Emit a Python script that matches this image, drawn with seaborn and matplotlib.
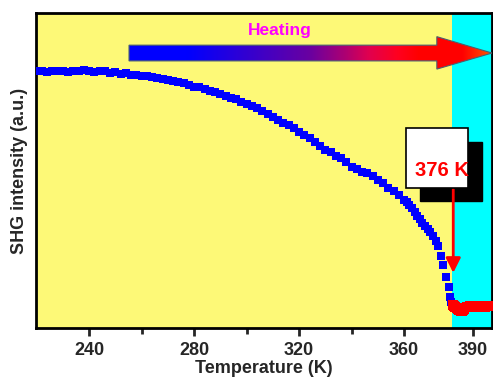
import numpy as np
import pandas as pd
import matplotlib
matplotlib.use('Agg')
import matplotlib.pyplot as plt
import seaborn as sns
from matplotlib.colors import LinearSegmentedColormap
from matplotlib.patches import Polygon, Rectangle, FancyArrowPatch

# ── Data ──────────────────────────────────────────────────────
temp_ferro = [220, 222, 224, 226, 228, 230, 232, 234, 236, 238, 240, 242, 244,
              246, 248, 250, 252, 254, 256, 258, 260, 262, 264, 266, 268, 270,
              272, 274, 276, 278, 280, 282, 284, 286, 288, 290, 292, 294, 296,
              298, 300, 302, 304, 306, 308, 310, 312, 314, 316, 318, 320, 322,
              324, 326, 328, 330, 332, 334, 336, 338, 340, 342, 344, 346, 348,
              350, 352, 354, 356, 358, 360, 361, 362, 363, 364, 365, 366, 367,
              368, 369, 370, 371, 372, 373, 374, 375, 376, 377, 377.5, 378]
shg_ferro = [1.000, 1.000, 0.996, 1.000, 1.002, 1.000, 0.998, 1.002, 1.000,
             1.004, 1.002, 0.998, 1.002, 1.000, 0.994, 0.996, 0.990, 0.992,
             0.986, 0.984, 0.980, 0.982, 0.976, 0.974, 0.968, 0.966, 0.962,
             0.958, 0.952, 0.946, 0.940, 0.938, 0.930, 0.924, 0.918, 0.910,
             0.904, 0.896, 0.890, 0.880, 0.872, 0.866, 0.858, 0.846, 0.834,
             0.820, 0.810, 0.798, 0.790, 0.778, 0.764, 0.752, 0.740, 0.724,
             0.710, 0.694, 0.684, 0.670, 0.660, 0.646, 0.628, 0.620, 0.606,
             0.602, 0.590, 0.576, 0.564, 0.546, 0.532, 0.516, 0.498, 0.490,
             0.478, 0.466, 0.452, 0.436, 0.424, 0.410, 0.398, 0.384, 0.372,
             0.358, 0.340, 0.320, 0.280, 0.244, 0.200, 0.158, 0.122, 0.102]

temp_para = [378.5, 379, 379.5, 380, 380.5, 381, 381.5, 382, 382.5, 383, 384,
             385, 386, 387, 388, 389, 390, 391, 392, 393, 394]
shg_para = [0.090, 0.086, 0.082, 0.078, 0.074, 0.070, 0.066, 0.066, 0.070,
            0.074, 0.080, 0.084, 0.086, 0.082, 0.085, 0.084, 0.086, 0.083,
            0.084, 0.086, 0.085]

x_ticks = [240, 280, 320, 360, 386.2]
x_labels = ['240', '280', '320', '360', '390']
x_minor = [260, 300, 340]
t_c = 378.3
t_c_label = '376 K'

ferro = pd.DataFrame({'T': temp_ferro, 'I': shg_ferro})
para = pd.DataFrame({'T': temp_para, 'I': shg_para})

# ── Figure ────────────────────────────────────────────────────
sns.set_style('ticks')
plt.rcParams['font.family'] = ['Liberation Sans', 'DejaVu Sans']

fig = plt.figure(figsize=(4.93, 3.79), dpi=100)
ax = fig.add_axes([0.073, 0.1346, 0.925, 0.831])
ax.set_xlim(219.8, 393.5)
ax.set_ylim(0, 1.226)

# background regions
ax.axvspan(219.8, t_c, color='#FDF977', zorder=0, lw=0)
ax.axvspan(t_c, 393.5, color='#00FFFF', zorder=0, lw=0)

sns.scatterplot(data=ferro, x='T', y='I', color='#0000FF', marker='s', s=30,
                linewidth=0, legend=False, ax=ax, zorder=3)
sns.scatterplot(data=para, x='T', y='I', color='#FF0000', marker='s', s=48,
                linewidth=0, legend=False, ax=ax, zorder=3)

# ── Heating gradient arrow (axes fraction) ────────────────────
cmap = LinearSegmentedColormap.from_list('heat', [
    (0.00, '#0000FF'), (0.16, '#0000FF'), (0.50, '#6A00A0'),
    (0.60, '#B00070'), (0.66, '#E00050'), (0.74, '#FF0020'),
    (0.80, '#FF0000'), (0.92, '#FF0000'), (1.00, '#FF5500')])
x0, xb, xt = 0.204, 0.879, 1.0
yb0, yb1, yh0, yh1 = 0.848, 0.898, 0.822, 0.925
ym = (yb0 + yb1) / 2
arrow_poly = Polygon([(x0, yb0), (xb, yb0), (xb, yh0), (xt, ym),
                      (xb, yh1), (xb, yb1), (x0, yb1)],
                     closed=True, transform=ax.transAxes,
                     facecolor='none', edgecolor='#4A6070', lw=0.8, zorder=6)
ax.add_patch(arrow_poly)
grad = np.linspace(0, 1, 256).reshape(1, -1)
im = ax.imshow(grad, cmap=cmap, aspect='auto', extent=[x0, xt, yh0, yh1],
               transform=ax.transAxes, zorder=5, interpolation='bilinear')
im.set_clip_path(arrow_poly)
ax.text(0.535, 0.946, 'Heating', transform=ax.transAxes, color='#FF00FF',
        fontsize=12.5, fontweight='bold', ha='center', va='center', zorder=7)

# ── 376 K label box with shadow and arrow ─────────────────────
ax.add_patch(Rectangle((0.842, 0.402), 0.136, 0.187, transform=ax.transAxes,
                       facecolor='black', edgecolor='black', zorder=6))
ax.add_patch(Rectangle((0.811, 0.444), 0.136, 0.190, transform=ax.transAxes,
                       facecolor='white', edgecolor='black', lw=1.2, zorder=7))
ax.text(0.890, 0.500, t_c_label, transform=ax.transAxes, color='#FF0000',
        fontsize=14.5, fontweight='bold', ha='center', va='center', zorder=8)
ax.add_patch(FancyArrowPatch((0.915, 0.44), (0.915, 0.175),
                             transform=ax.transAxes, arrowstyle='-|>',
                             mutation_scale=22, color='#FF0000', lw=2,
                             zorder=6, shrinkA=0, shrinkB=0))

# ── Axes styling ──────────────────────────────────────────────
for s in ax.spines.values():
    s.set_linewidth(2)
    s.set_color('black')
ax.set_xticks(x_ticks)
ax.set_xticklabels(x_labels, fontsize=13, fontweight='bold')
ax.set_xticks(x_minor, minor=True)
ax.tick_params(axis='x', which='major', direction='out', length=6, width=2, pad=4)
ax.tick_params(axis='x', which='minor', direction='out', length=4, width=2)
ax.set_yticks([])
ax.set_xlabel('Temperature (K)', fontsize=13, fontweight='bold', labelpad=1)
ax.set_ylabel('SHG intensity (a.u.)', fontsize=13, fontweight='bold', labelpad=6)

fig.savefig('out.png', dpi=100)
plt.close(fig)
